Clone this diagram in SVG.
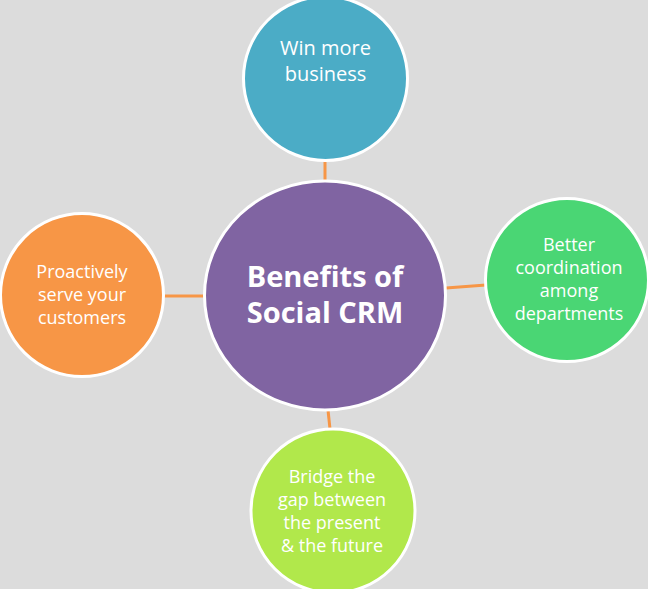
<svg xmlns="http://www.w3.org/2000/svg" width="648" height="589" viewBox="0 0 648 589">
<style>
.n{stroke:#fff;stroke-width:3}
.t{font-family:"Open Sans","Noto Sans",sans-serif;fill:#fff;text-anchor:middle}
.s{font-size:18px}
.c{stroke:#f79646;stroke-width:3;fill:none}
</style>
<rect width="648" height="589" fill="#dcdcdc"/>
<g id="connectors">
<line class="c" x1="325" y1="161" x2="325" y2="182"/>
<line class="c" x1="446" y1="288" x2="486" y2="285"/>
<line class="c" x1="164" y1="296" x2="205" y2="296"/>
<line class="c" x1="328" y1="410" x2="330" y2="429"/>
</g>
<g id="center">
<ellipse class="n" cx="325" cy="295.5" rx="120.5" ry="114.5" fill="#8064a2"/>
<text class="t" font-size="29" font-weight="bold" x="325" y="287">Benefits of</text>
<text class="t" font-size="29" font-weight="bold" x="325" y="323">Social CRM</text>
</g>
<g id="top">
<circle class="n" cx="325.5" cy="78.5" r="82" fill="#4bacc6"/>
<text class="t" font-size="20" x="325.5" y="55">Win more</text>
<text class="t" font-size="20" x="325.5" y="81">business</text>
</g>
<g id="right">
<circle class="n" cx="567" cy="280" r="81.5" fill="#4ad674"/>
<text class="t s" x="569" y="251">Better</text>
<text class="t s" x="569" y="274">coordination</text>
<text class="t s" x="569" y="297">among</text>
<text class="t s" x="569" y="320">departments</text>
</g>
<g id="left">
<circle class="n" cx="82" cy="295" r="81.5" fill="#f79646"/>
<text class="t s" x="82" y="278">Proactively</text>
<text class="t s" x="82" y="301">serve your</text>
<text class="t s" x="82" y="324">customers</text>
</g>
<g id="bottom">
<circle class="n" cx="333" cy="511" r="82" fill="#b1e84b"/>
<text class="t s" x="332" y="483">Bridge the</text>
<text class="t s" x="332" y="506">gap between</text>
<text class="t s" x="332" y="529">the present</text>
<text class="t s" x="332" y="552">&amp; the future</text>
</g>
</svg>
